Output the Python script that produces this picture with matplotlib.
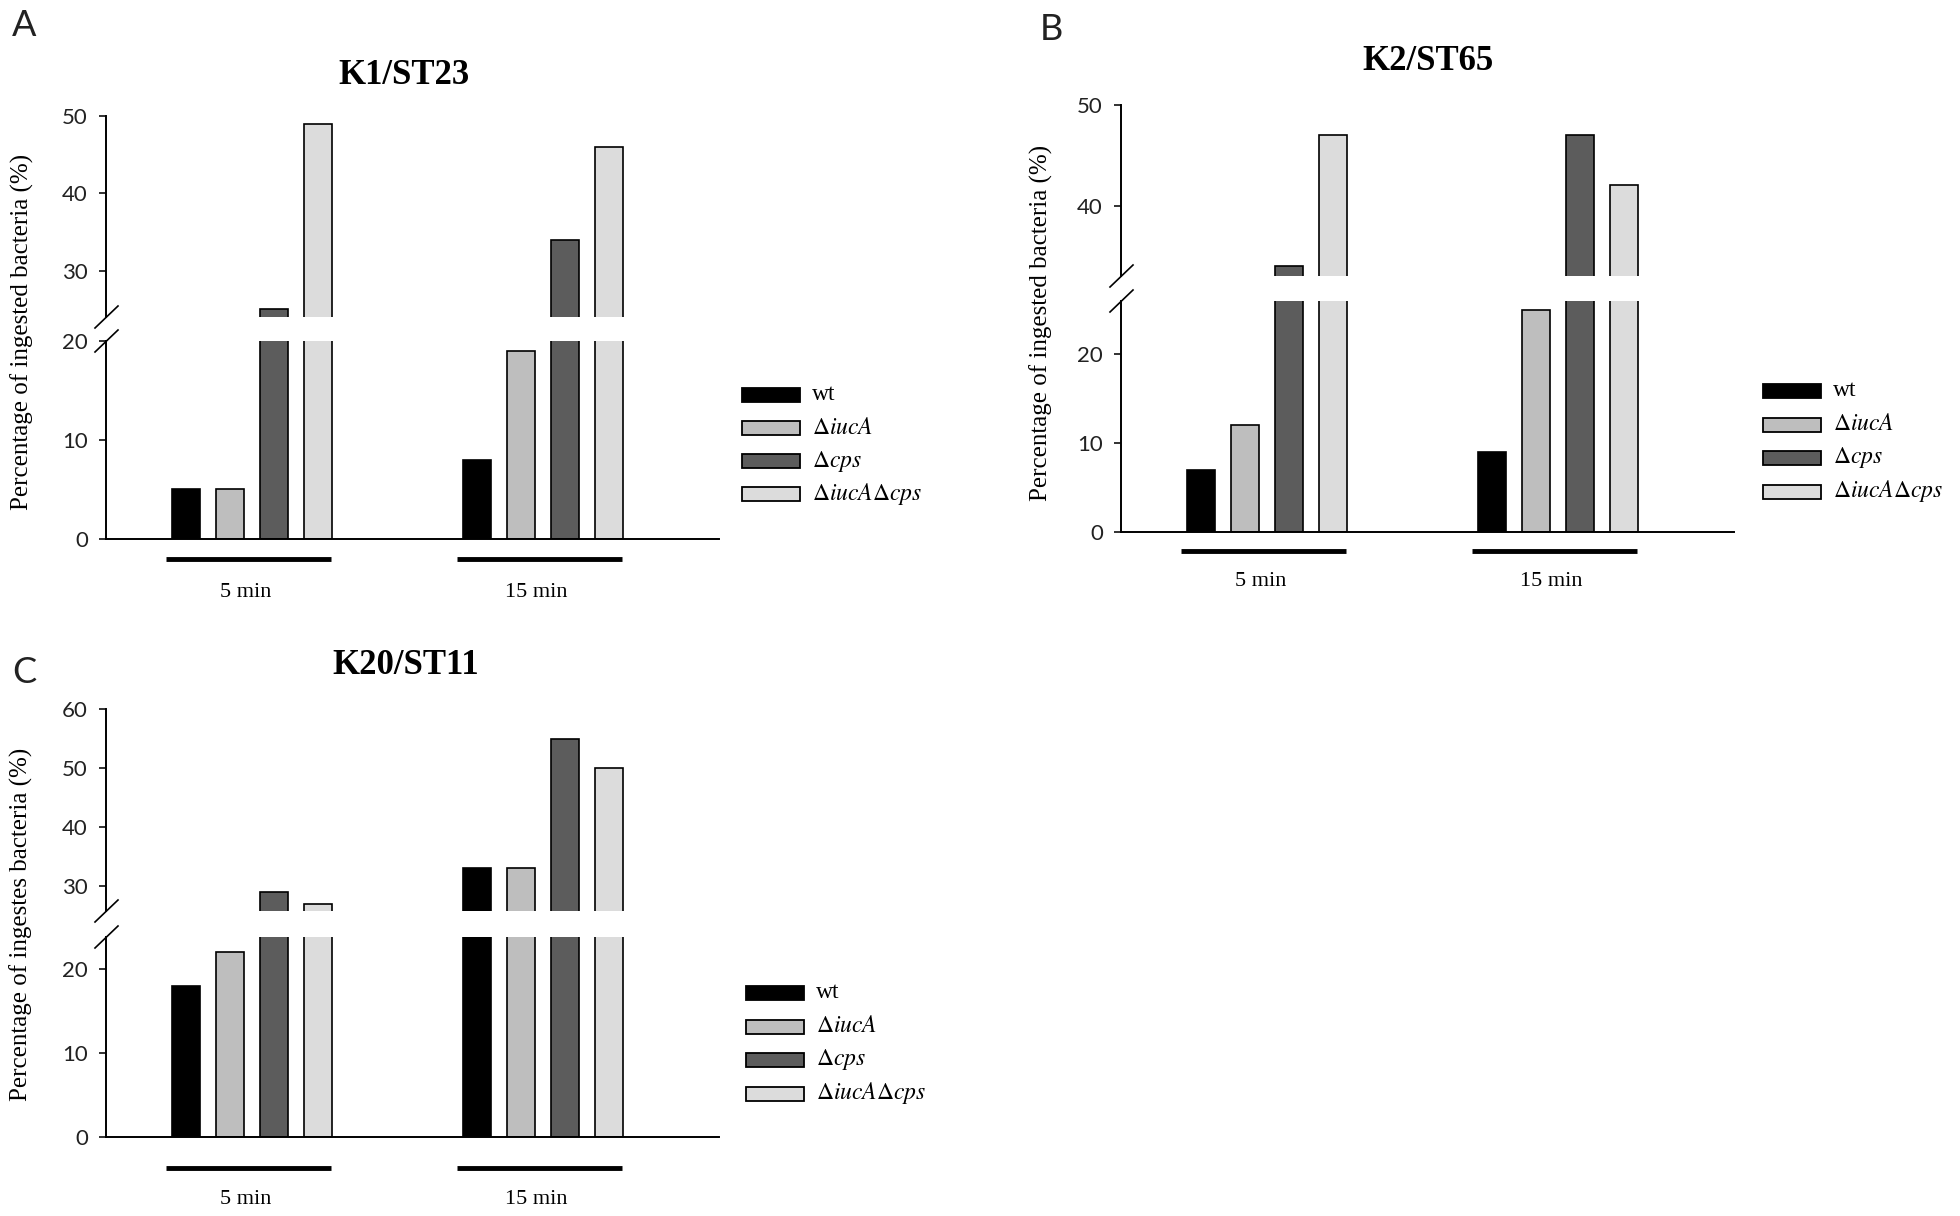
"""
Ingested bacteria bar charts (K1/ST23, K2/ST65, K20/ST11) with broken y axes
"""

import matplotlib
matplotlib.use("Agg")
import matplotlib.pyplot as plt
from matplotlib.lines import Line2D
from matplotlib.patches import Rectangle
import numpy as np

plt.rcParams["mathtext.fontset"] = "stix"

strains = ["wt", "ΔiucA", "Δcps", "ΔiucAΔcps"]
legend_labels = ["wt", r"$\Delta\mathit{iucA}$", r"$\Delta\mathit{cps}$",
                 r"$\Delta\mathit{iucA}\Delta\mathit{cps}$"]
times = ["5 min", "15 min"]
bar_colors = ["#000000", "#BEBEBE", "#5C5C5C", "#DCDCDC"]

# values in strain order: wt, ΔiucA, Δcps, ΔiucAΔcps
k1_5min = [5, 5, 25, 49]
k1_15min = [8, 19, 34, 46]
k2_5min = [7, 12, 34, 47]
k2_15min = [9, 25, 47, 42]
k20_5min = [18, 22, 29, 27]
k20_15min = [33, 33, 55, 50]

W, H = 1960, 1216
SERIF = "Liberation Serif"
SANS = "Lato"

panels = [
    dict(letter="A", letter_xy=(24, 26), title="K1/ST23", title_xy=(404, 76),
         ylabel="Percentage of ingested bacteria (%)", ylabel_xy=(22, 332),
         values=[k1_5min, k1_15min], x0=106, x1=719,
         top=116, hi_bottom=317, lo_top=341, zero=539,
         hi_lim=(24, 50), lo_lim=(0, 20), hi_ticks=[30, 40, 50], lo_ticks=[0, 10, 20],
         line_below=20, label_below=54, leg_x=742, leg_y=395, leg_dy=33),
    dict(letter="B", letter_xy=(1051, 30), title="K2/ST65", title_xy=(1428, 62),
         ylabel="Percentage of ingested bacteria (%)", ylabel_xy=(1041, 323),
         values=[k2_5min, k2_15min], x0=1121, x1=1734,
         top=105, hi_bottom=276, lo_top=301, zero=532,
         hi_lim=(33, 50), lo_lim=(0, 26), hi_ticks=[40, 50], lo_ticks=[0, 10, 20],
         line_below=19, label_below=50, leg_x=1763, leg_y=391, leg_dy=33.5),
    dict(letter="C", letter_xy=(24, 672), title="K20/ST11", title_xy=(406, 666),
         ylabel="Percentage of ingestes bacteria (%)", ylabel_xy=(21, 924),
         values=[k20_5min, k20_15min], x0=106, x1=719,
         top=709, hi_bottom=911, lo_top=937, zero=1137,
         hi_lim=(25.8, 60), lo_lim=(0, 23.8), hi_ticks=[30, 40, 50, 60], lo_ticks=[0, 10, 20],
         line_below=31, label_below=62, leg_x=746, leg_y=993, leg_dy=33.5),
]


def fig_rect(x0, y0, x1, y1):
    return [x0 / W, 1 - y1 / H, (x1 - x0) / W, (y1 - y0) / H]


def fx(x):
    return x / W


def fy(y):
    return 1 - y / H


fig = plt.figure(figsize=(W / 100, H / 100), dpi=100, facecolor="white")

group_gap = 6.6
bar_w = 0.64
xlim = (-1.82, 12.1)

for p in panels:
    ax_hi = fig.add_axes(fig_rect(p["x0"], p["top"], p["x1"], p["hi_bottom"]))
    ax_lo = fig.add_axes(fig_rect(p["x0"], p["lo_top"], p["x1"], p["zero"]))

    for ax in (ax_hi, ax_lo):
        for g, vals in enumerate(p["values"]):
            ax.bar(g * group_gap + np.arange(len(strains)), vals, width=bar_w,
                   color=bar_colors, edgecolor="black", linewidth=1.2)
        ax.set_xlim(*xlim)
        ax.set_xticks([])
        for side in ("top", "right"):
            ax.spines[side].set_visible(False)
        ax.spines["left"].set_linewidth(1.4)
        ax.tick_params(axis="y", direction="out", length=5, width=1.3, pad=8,
                       labelsize=16, colors="#222222")

    ax_hi.spines["bottom"].set_visible(False)
    ax_lo.spines["bottom"].set_linewidth(1.4)
    ax_hi.set_ylim(*p["hi_lim"])
    ax_lo.set_ylim(*p["lo_lim"])
    ax_hi.set_yticks(p["hi_ticks"])
    ax_lo.set_yticks(p["lo_ticks"])
    for ax in (ax_hi, ax_lo):
        for lab in ax.get_yticklabels():
            lab.set_family(SANS)

    # break marks on the y axis
    for yb in (p["hi_bottom"], p["lo_top"]):
        fig.add_artist(Line2D([fx(p["x0"] - 11), fx(p["x0"] + 12)],
                              [fy(yb + 11), fy(yb - 11)],
                              transform=fig.transFigure, color="black", lw=1.2))

    # group underlines and labels
    lo_h = p["zero"] - p["lo_top"]
    trans = ax_lo.get_xaxis_transform()
    for g, t in enumerate(times):
        start = g * group_gap
        ax_lo.plot([start - 0.45, start + 3.3], [-p["line_below"] / lo_h] * 2,
                   color="black", lw=3.5, transform=trans, clip_on=False,
                   solid_capstyle="butt")
        ax_lo.text(start + 1.35, -p["label_below"] / lo_h, t, transform=trans,
                   ha="center", va="center", fontsize=16, family=SERIF)

    fig.text(fx(p["title_xy"][0]), fy(p["title_xy"][1]), p["title"],
             ha="center", va="center", fontsize=25, fontweight="bold", family=SERIF)
    fig.text(fx(p["letter_xy"][0]), fy(p["letter_xy"][1]), p["letter"],
             ha="center", va="center", fontsize=26, family=SANS, color="#222222")
    fig.text(fx(p["ylabel_xy"][0]), fy(p["ylabel_xy"][1]), p["ylabel"],
             ha="center", va="center", rotation=90, fontsize=18, family=SERIF)

    # legend
    for k, (lab, col) in enumerate(zip(legend_labels, bar_colors)):
        yc = p["leg_y"] + k * p["leg_dy"]
        fig.add_artist(Rectangle((fx(p["leg_x"]), fy(yc + 7)), 58 / W, 14 / H,
                                 transform=fig.transFigure, facecolor=col,
                                 edgecolor="black", lw=1.3))
        fig.text(fx(p["leg_x"] + 70), fy(yc), lab, ha="left", va="center",
                 fontsize=17, family=SERIF)

fig.savefig("out.png", dpi=100, facecolor="white")
